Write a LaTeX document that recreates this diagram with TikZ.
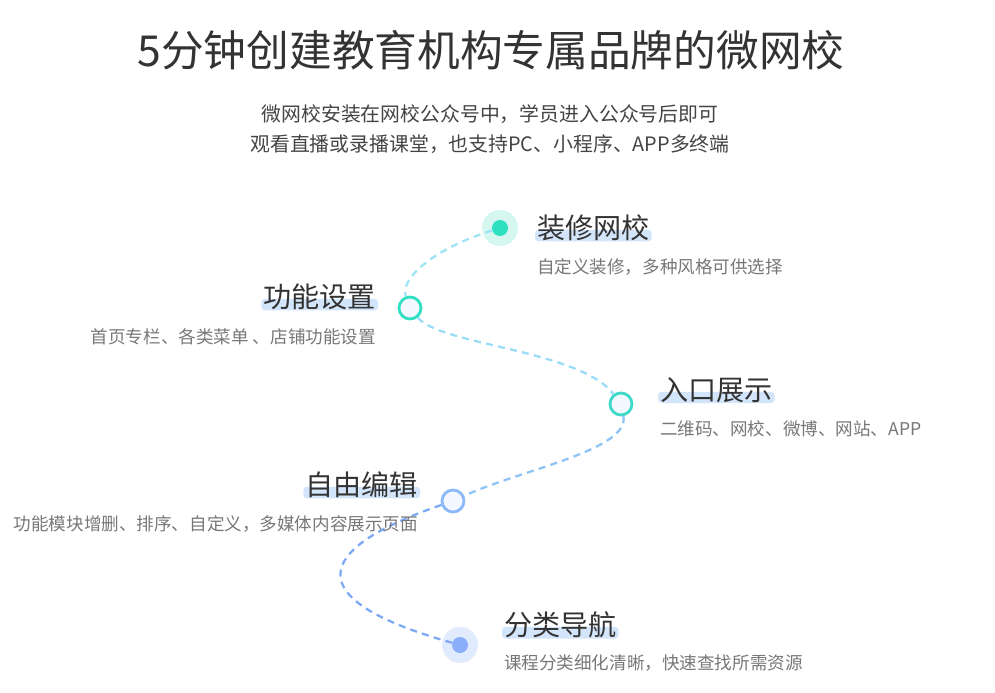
\documentclass[tikz,border=0pt]{standalone}
\usepackage{fontspec}
\usetikzlibrary{backgrounds}
\setmainfont{Noto Sans CJK SC}
\definecolor{teal}{HTML}{2EE0C0}
\definecolor{halot}{HTML}{D5F7EF}
\definecolor{blueb}{HTML}{8AAEFA}
\definecolor{halob}{HTML}{E0EBFD}
\definecolor{hlbar}{HTML}{D3E5FA}
\definecolor{txt}{HTML}{333333}
\definecolor{gtxt}{HTML}{777777}
\definecolor{subtxt}{HTML}{444444}
\definecolor{ringfill}{HTML}{F3F7FF}
\definecolor{ringc}{HTML}{3ED8C8}
\definecolor{ringd}{HTML}{8AB8F8}
\definecolor{routea}{HTML}{9DE3F5}
\definecolor{routeb}{HTML}{9ADCF8}
\definecolor{routec}{HTML}{8CC4F8}
\definecolor{routed}{HTML}{7EAAF5}
\tikzset{
  ring/.style={circle, draw=#1, line width=1.6pt, fill=ringfill, minimum size=0.44cm, inner sep=0pt},
  step title/.style={font=\fontsize{16}{18}\selectfont, text=txt, inner sep=1pt},
  step desc/.style={font=\fontsize{10}{12}\selectfont, text=gtxt, inner sep=1pt},
  route/.style={dash pattern=on 4pt off 3pt, line width=1.3pt, color=#1},
}
\begin{document}
\begin{tikzpicture}[x=0.02cm,y=-0.02cm]
\useasboundingbox (0,0) rectangle (995,693);

\node[font=\fontsize{24.3}{28}\selectfont, text=txt] (title) at (491,50) {5分钟创建教育机构专属品牌的微网校};
\node[font=\fontsize{11.3}{17}\selectfont, text=subtxt, align=center] (sub) at (490,129) {微网校安装在网校公众号中，学员进入公众号后即可\\观看直播或录播课堂，也支持PC、小程序、APP多终端};

% markers
\fill[halot] (500,228) circle (18);
\node[circle, fill=teal, minimum size=0.32cm, inner sep=0pt] (p1) at (500,228) {};
\node[ring=teal] (p2) at (410,308) {};
\node[ring=ringc] (p3) at (621,404) {};
\node[ring=ringd] (p4) at (453,501) {};
\fill[halob] (460,645) circle (18);
\node[circle, fill=blueb, minimum size=0.32cm, inner sep=0pt] (p5) at (460,645) {};

% route
\draw[route=routea] (p1) .. controls (430,250) and (400,280) .. (p2);
\draw[route=routeb] (p2) .. controls (440,345) and (580,350) .. (p3);
\draw[route=routec] (p3) .. controls (630,450) and (520,470) .. (p4);
\draw[route=routed] (p4) .. controls (310,550) and (300,600) .. (p5);

% labels
\node[step title, anchor=west] (t1) at (535,228) {装修网校};
\node[step desc, anchor=west] (d1) at (535,267) {自定义装修，多种风格可供选择};
\node[step title, anchor=east] (t2) at (378,297) {功能设置};
\node[step desc, anchor=east] (d2) at (378,337) {首页专栏、各类菜单 、店铺功能设置};
\node[step title, anchor=west] (t3) at (658,390) {入口展示};
\node[step desc, anchor=west] (d3) at (658,429) {二维码、网校、微博、网站、APP};
\node[step title, anchor=east] (t4) at (420,485) {自由编辑};
\node[step desc, anchor=east] (d4) at (420,524) {功能模块增删、排序、自定义，多媒体内容展示页面};
\node[step title, anchor=west] (t5) at (502,625) {分类导航};
\node[step desc, anchor=west] (d5) at (502,663) {课程分类细化清晰，快速查找所需资源};

% highlight bars
\begin{scope}[on background layer]
\foreach \t in {t1,t2,t3,t4,t5}
  \fill[hlbar, rounded corners=2pt] ([yshift=1pt]\t.south west) rectangle ([yshift=-1pt]\t.east);
\end{scope}
\end{tikzpicture}
\end{document}
